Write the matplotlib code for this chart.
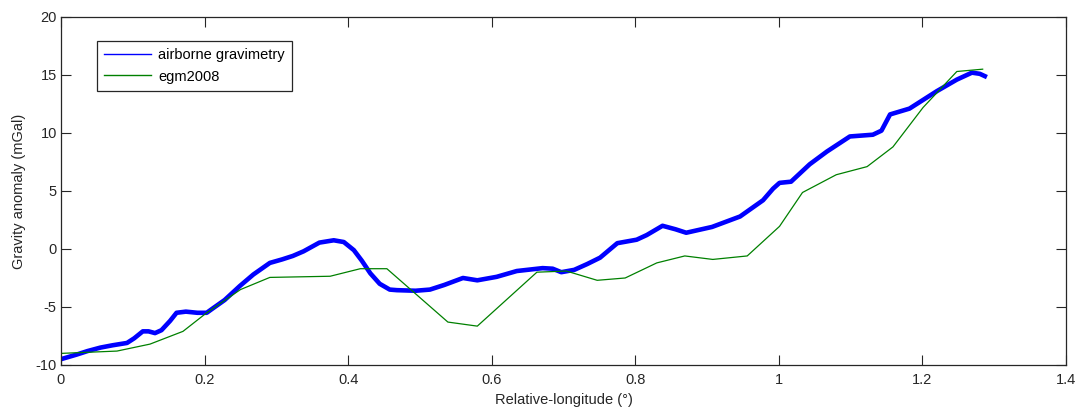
import matplotlib
matplotlib.use("Agg")
import matplotlib.pyplot as plt

plt.rcParams["font.family"] = ["Liberation Sans", "DejaVu Sans"]
plt.rcParams["axes.unicode_minus"] = False

# airborne gravimetry
air_lon = [0, 0.022, 0.037, 0.055, 0.072, 0.092, 0.102, 0.114, 0.122, 0.131, 0.140, 0.152,
           0.161, 0.174, 0.19, 0.203, 0.212, 0.228, 0.249, 0.268, 0.291, 0.308, 0.323,
           0.338, 0.36, 0.380, 0.394, 0.408, 0.419, 0.431, 0.444, 0.458, 0.468, 0.494,
           0.514, 0.534, 0.56, 0.58, 0.607, 0.635, 0.671, 0.685, 0.697, 0.715, 0.733,
           0.751, 0.775, 0.802, 0.816, 0.838, 0.856, 0.871, 0.907, 0.946, 0.978, 0.992,
           1.001, 1.017, 1.043, 1.067, 1.099, 1.131, 1.143, 1.155, 1.182, 1.220, 1.248,
           1.269, 1.280, 1.287]
air_grav = [-9.5, -9.1, -8.8, -8.5, -8.3, -8.1, -7.7, -7.1, -7.1, -7.25, -7.0, -6.2,
            -5.5, -5.4, -5.5, -5.5, -5.1, -4.4, -3.2, -2.2, -1.2, -0.9, -0.6,
            -0.2, 0.55, 0.75, 0.6, -0.1, -1.0, -2.1, -3.0, -3.5, -3.55, -3.6,
            -3.5, -3.1, -2.5, -2.7, -2.4, -1.9, -1.65, -1.7, -2.0, -1.8, -1.3,
            -0.75, 0.5, 0.8, 1.2, 2.0, 1.7, 1.4, 1.9, 2.8, 4.2, 5.2,
            5.7, 5.8, 7.3, 8.4, 9.7, 9.85, 10.2, 11.6, 12.1, 13.6, 14.6,
            15.2, 15.1, 14.9]

# egm2008 model
egm_lon = [0, 0.078, 0.124, 0.170, 0.203, 0.250, 0.291, 0.375, 0.417, 0.454, 0.539,
           0.580, 0.663, 0.704, 0.747, 0.786, 0.830, 0.869, 0.908, 0.956, 1.001,
           1.033, 1.080, 1.123, 1.159, 1.201, 1.248, 1.284]
egm_grav = [-9.0, -8.8, -8.2, -7.1, -5.5, -3.5, -2.45, -2.35, -1.7, -1.7, -6.3,
            -6.65, -2.0, -1.9, -2.7, -2.5, -1.2, -0.6, -0.9, -0.6, 1.95,
            4.87, 6.4, 7.1, 8.8, 12.2, 15.3, 15.5]

fig = plt.figure(figsize=(10.79, 4.09), dpi=100)
ax = fig.add_axes([0.0565, 0.1076, 0.9314, 0.8509])

ax.plot(air_lon, air_grav, c="#0000ff", lw=3.3, label="airborne gravimetry")
ax.plot(egm_lon, egm_grav, c="#008000", lw=0.9, label="egm2008")

ax.set_xlim(0, 1.4)
ax.set_ylim(-10, 20)
ax.set_xticks([0, 0.2, 0.4, 0.6, 0.8, 1, 1.2, 1.4])
ax.set_xticklabels(["0", "0.2", "0.4", "0.6", "0.8", "1", "1.2", "1.4"])
ax.set_yticks([-10, -5, 0, 5, 10, 15, 20])
ax.tick_params(direction="in", length=7, width=0.8, top=True, right=True,
               labelsize=10.5, colors="#262626", pad=3)
ax.tick_params(axis="x", pad=6)
for s in ax.spines.values():
    s.set_color("#262626")
    s.set_linewidth(0.9)

ax.set_xlabel("Relative-longitude (°)", fontsize=10.5, color="#262626", labelpad=4)
ax.set_ylabel("Gravity anomaly (mGal)", fontsize=10.5, color="#262626", labelpad=7)

leg = ax.legend(loc="upper left", bbox_to_anchor=(0.036, 0.931), fancybox=False,
                edgecolor="#262626", framealpha=1, fontsize=10.5, handlelength=3.2,
                borderpad=0.5, labelspacing=0.5, handletextpad=0.5, borderaxespad=0)
leg.get_frame().set_linewidth(0.9)
for h in leg.get_lines():
    h.set_linewidth(1)

fig.savefig("out.png", dpi=100)
